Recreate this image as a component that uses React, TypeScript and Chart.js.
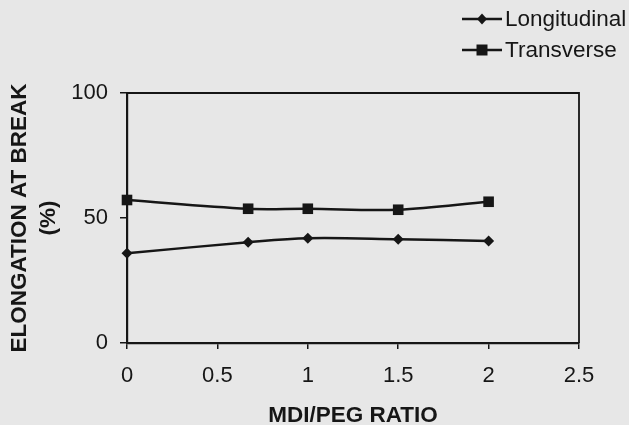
import React, { useEffect, useRef } from 'react';
import { Chart, registerables } from 'chart.js';

Chart.register(...registerables);

// ---- data ----
const ratios = [0, 0.67, 1, 1.5, 2];
const longitudinal = [35.9, 40.3, 41.9, 41.5, 40.8];
const transverse = [57.2, 53.7, 53.7, 53.3, 56.5];
const seriesNames = ['Longitudinal', 'Transverse'];
const xTicks = [0, 0.5, 1, 1.5, 2, 2.5];
const yTicks = [0, 50, 100];
const xTitle = 'MDI/PEG RATIO';
const yTitle = ['ELONGATION AT BREAK', '(%)'];

const FONT = "'Liberation Sans', Arial, Helvetica, sans-serif";
const INK = '#161616';
const BG = '#e7e7e7';

const bgPlugin = {
  id: 'bgFill',
  beforeDraw(chart: any) {
    const { ctx, width, height } = chart;
    ctx.save();
    ctx.fillStyle = BG;
    ctx.fillRect(0, 0, width, height);
    ctx.restore();
  },
};

const framePlugin = {
  id: 'frame',
  beforeDatasetsDraw(chart: any) {
    const { ctx, chartArea } = chart;
    ctx.save();
    ctx.strokeStyle = INK;
    ctx.lineWidth = 1.8;
    ctx.beginPath();
    ctx.moveTo(chartArea.left, chartArea.top);
    ctx.lineTo(chartArea.right, chartArea.top);
    ctx.lineTo(chartArea.right, chartArea.bottom);
    ctx.stroke();
    ctx.restore();
  },
};

const legendPlugin = {
  id: 'customLegend',
  afterDraw(chart: any) {
    const { ctx } = chart;
    ctx.save();
    chart.data.datasets.forEach((ds: any, i: number) => {
      const y = 19 + i * 31;
      const x1 = 462;
      const x2 = 502;
      const cx = 482;
      ctx.strokeStyle = INK;
      ctx.lineWidth = 2.4;
      ctx.beginPath();
      ctx.moveTo(x1, y);
      ctx.lineTo(x2, y);
      ctx.stroke();
      ctx.fillStyle = INK;
      ctx.beginPath();
      if (ds.pointStyle === 'rect') {
        ctx.rect(cx - 5.5, y - 5.5, 11, 11);
      } else {
        ctx.moveTo(cx, y - 5.5);
        ctx.lineTo(cx + 5, y);
        ctx.lineTo(cx, y + 5.5);
        ctx.lineTo(cx - 5, y);
        ctx.closePath();
      }
      ctx.fill();
      ctx.font = `22.5px ${FONT}`;
      ctx.textAlign = 'left';
      ctx.textBaseline = 'middle';
      ctx.fillText(ds.label, 505, y + 1);
    });
    ctx.restore();
  },
};

export default function App() {
  const ref = useRef<HTMLCanvasElement>(null);

  useEffect(() => {
    document.body.style.margin = '0';
    document.body.style.background = BG;
    const canvas = ref.current;
    if (!canvas) return;
    const chart = new Chart(canvas, {
      type: 'line',
      data: {
        datasets: [
          {
            label: seriesNames[0],
            data: ratios.map((x, i) => ({ x, y: longitudinal[i] })),
            borderColor: INK,
            backgroundColor: INK,
            borderWidth: 2.5,
            pointStyle: 'rectRot',
            pointRadius: 5.5,
            pointBorderWidth: 0,
            tension: 0.35,
            clip: false as any,
          },
          {
            label: seriesNames[1],
            data: ratios.map((x, i) => ({ x, y: transverse[i] })),
            borderColor: INK,
            backgroundColor: INK,
            borderWidth: 2.5,
            pointStyle: 'rect',
            pointRadius: 7.5,
            pointBorderWidth: 0,
            tension: 0.35,
            clip: false as any,
          },
        ],
      },
      options: {
        responsive: false,
        animation: false,
        layout: { padding: { top: 93, right: 50, left: 0, bottom: 0 } },
        plugins: {
          legend: { display: false },
          tooltip: { enabled: false },
        },
        scales: {
          x: {
            type: 'linear',
            min: 0,
            max: 2.5,
            afterBuildTicks: (scale: any) => {
              scale.ticks = xTicks.map((v) => ({ value: v }));
            },
            afterFit: (scale: any) => {
              scale.height = 82;
            },
            grid: { display: true, drawOnChartArea: false, drawTicks: true, tickLength: 6, color: INK, lineWidth: 1.5 },
            border: { display: true, color: INK, width: 2.2 },
            ticks: {
              color: INK,
              padding: 14,
              font: { family: FONT, size: 22 },
              maxRotation: 0,
              autoSkip: false,
              callback: (v: any) => String(v),
            },
            title: {
              display: true,
              text: xTitle,
              color: INK,
              font: { family: FONT, size: 22.5, weight: 'bold', lineHeight: 0.8 },
              padding: { top: 0, bottom: 0 },
            },
          },
          y: {
            type: 'linear',
            min: 0,
            max: 100,
            afterBuildTicks: (scale: any) => {
              scale.ticks = yTicks.map((v) => ({ value: v }));
            },
            afterFit: (scale: any) => {
              scale.width = 127;
            },
            grid: { display: true, drawOnChartArea: false, drawTicks: true, tickLength: 7, color: INK, lineWidth: 1.5 },
            border: { display: true, color: INK, width: 2.2 },
            ticks: {
              color: INK,
              padding: 12,
              font: { family: FONT, size: 22 },
              autoSkip: false,
              callback: (v: any) => String(v),
            },
            title: {
              display: true,
              text: yTitle,
              color: INK,
              font: { family: FONT, size: 22.5, weight: 'bold', lineHeight: 1.29 },
              padding: { top: 5.5, bottom: 0 },
            },
          },
        },
      },
      plugins: [bgPlugin, framePlugin, legendPlugin],
    });
    return () => chart.destroy();
  }, []);

  return (
    <div style={{ width: 629, height: 425 }}>
      <canvas ref={ref} width={629} height={425} style={{ display: 'block' }} />
    </div>
  );
}
